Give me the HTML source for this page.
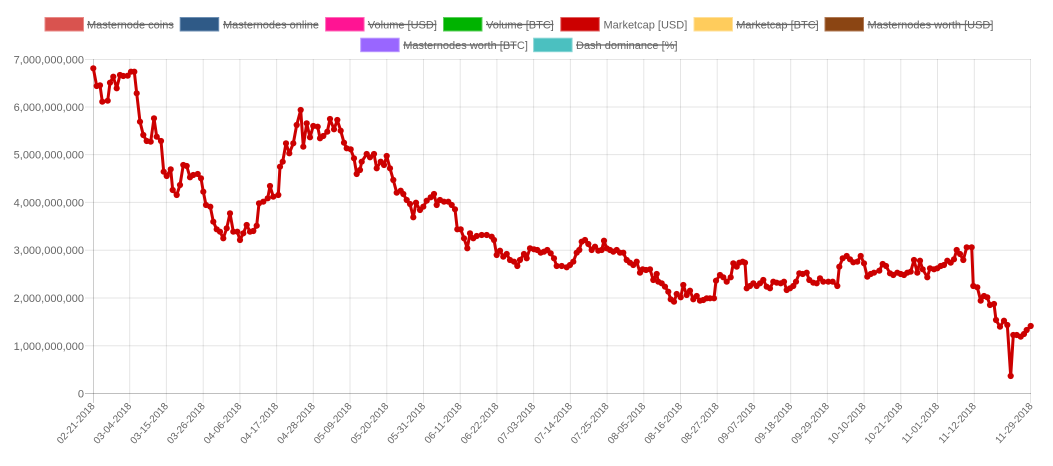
<!DOCTYPE html>
<html>
<head>
<meta charset="utf-8">
<style>
html,body{margin:0;padding:0;background:#fff;}
svg{display:block;}
text{font-family:"Liberation Sans",Arial,sans-serif;fill:#666;}
</style>
</head>
<body>
<svg width="1053" height="466" viewBox="0 0 1053 466" xmlns="http://www.w3.org/2000/svg">
<defs>
<marker id="dot" markerUnits="userSpaceOnUse" markerWidth="8" markerHeight="8" refX="4" refY="4" viewBox="0 0 8 8">
<circle cx="4" cy="4" r="3.1" fill="#cc0000"/>
</marker>
</defs>

<!-- Legend row 1 -->
<g stroke-width="1">
<rect x="45" y="17.5" width="38.5" height="13.5" fill="#d9534f" stroke="#e98a87"/>
<rect x="180.2" y="17.5" width="38.5" height="13.5" fill="#2f5a87" stroke="#6d8fb3"/>
<rect x="325.6" y="17.5" width="38.5" height="13.5" fill="#ff1493" stroke="#ff6ab8"/>
<rect x="443.5" y="17.5" width="38.5" height="13.5" fill="#00b300" stroke="#5ccf5c"/>
<rect x="560.8" y="17.5" width="38.5" height="13.5" fill="#cc0000" stroke="#e06060"/>
<rect x="694" y="17.5" width="38.5" height="13.5" fill="#ffcc5c" stroke="#ffe09a"/>
<rect x="825" y="17.5" width="38.5" height="13.5" fill="#8b4513" stroke="#b07a55"/>
<rect x="360.7" y="38.2" width="38.5" height="13.5" fill="#9966ff" stroke="#bb99ff"/>
<rect x="533.6" y="38.2" width="38.5" height="13.5" fill="#4bc0c0" stroke="#8ad6d6"/>
</g>
<g font-size="11">
<text x="87" y="28.5">Masternode coins</text>
<text x="223" y="28.5">Masternodes online</text>
<text x="367.8" y="28.5">Volume [USD]</text>
<text x="486" y="28.5">Volume [BTC]</text>
<text x="603.5" y="28.5">Marketcap [USD]</text>
<text x="736.2" y="28.5">Marketcap [BTC]</text>
<text x="867.5" y="28.5">Masternodes worth [USD]</text>
<text x="403.2" y="49">Masternodes worth [BTC]</text>
<text x="576" y="49">Dash dominance [%]</text>
</g>
<g stroke="#666" stroke-width="1.3">
<line x1="87" y1="24.5" x2="173.5" y2="24.5"/>
<line x1="223" y1="24.5" x2="318" y2="24.5"/>
<line x1="367.8" y1="24.5" x2="436.5" y2="24.5"/>
<line x1="486" y1="24.5" x2="553.5" y2="24.5"/>
<line x1="736.2" y1="24.5" x2="817.8" y2="24.5"/>
<line x1="867.5" y1="24.5" x2="991.8" y2="24.5"/>
<line x1="403.2" y1="45" x2="516.6" y2="45"/>
<line x1="576" y1="45" x2="676.8" y2="45"/>
</g>

<!-- Horizontal gridlines -->
<g stroke="rgba(0,0,0,0.1)" stroke-width="1">
<line x1="85" y1="59.5" x2="1031" y2="59.5"/>
<line x1="85" y1="107" x2="1031" y2="107"/>
<line x1="85" y1="154.6" x2="1031" y2="154.6"/>
<line x1="85" y1="202.4" x2="1031" y2="202.4"/>
<line x1="85" y1="250.2" x2="1031" y2="250.2"/>
<line x1="85" y1="298" x2="1031" y2="298"/>
<line x1="85" y1="345.8" x2="1031" y2="345.8"/>
</g>
<line x1="85" y1="393.5" x2="1031" y2="393.5" stroke="rgba(0,0,0,0.25)" stroke-width="1"/>

<!-- Vertical gridlines -->
<g stroke="rgba(0,0,0,0.1)" stroke-width="1">
<line x1="129.7" y1="59" x2="129.7" y2="403"/>
<line x1="166.4" y1="59" x2="166.4" y2="403"/>
<line x1="203.2" y1="59" x2="203.2" y2="403"/>
<line x1="239.9" y1="59" x2="239.9" y2="403"/>
<line x1="276.6" y1="59" x2="276.6" y2="403"/>
<line x1="313.3" y1="59" x2="313.3" y2="403"/>
<line x1="350" y1="59" x2="350" y2="403"/>
<line x1="386.8" y1="59" x2="386.8" y2="403"/>
<line x1="423.5" y1="59" x2="423.5" y2="403"/>
<line x1="460.2" y1="59" x2="460.2" y2="403"/>
<line x1="496.9" y1="59" x2="496.9" y2="403"/>
<line x1="533.6" y1="59" x2="533.6" y2="403"/>
<line x1="570.4" y1="59" x2="570.4" y2="403"/>
<line x1="607.1" y1="59" x2="607.1" y2="403"/>
<line x1="643.8" y1="59" x2="643.8" y2="403"/>
<line x1="680.5" y1="59" x2="680.5" y2="403"/>
<line x1="717.2" y1="59" x2="717.2" y2="403"/>
<line x1="753.9" y1="59" x2="753.9" y2="403"/>
<line x1="790.7" y1="59" x2="790.7" y2="403"/>
<line x1="827.4" y1="59" x2="827.4" y2="403"/>
<line x1="864.1" y1="59" x2="864.1" y2="403"/>
<line x1="900.8" y1="59" x2="900.8" y2="403"/>
<line x1="937.5" y1="59" x2="937.5" y2="403"/>
<line x1="974.3" y1="59" x2="974.3" y2="403"/>
<line x1="1030.5" y1="59" x2="1030.5" y2="403"/>
</g>
<line x1="93.5" y1="59" x2="93.5" y2="403" stroke="rgba(0,0,0,0.2)" stroke-width="1"/>

<!-- Y labels -->
<g font-size="11" text-anchor="end">
<text x="84" y="63.5">7,000,000,000</text>
<text x="84" y="111">6,000,000,000</text>
<text x="84" y="158.6">5,000,000,000</text>
<text x="84" y="206.4">4,000,000,000</text>
<text x="84" y="254.2">3,000,000,000</text>
<text x="84" y="302">2,000,000,000</text>
<text x="84" y="349.8">1,000,000,000</text>
<text x="84" y="397.5">0</text>
</g>

<!-- X labels -->
<g font-size="10" text-anchor="end">
<text transform="translate(95.3,406.5) rotate(-48)">02-21-2018</text>
<text transform="translate(132,406.5) rotate(-48)">03-04-2018</text>
<text transform="translate(168.7,406.5) rotate(-48)">03-15-2018</text>
<text transform="translate(205.5,406.5) rotate(-48)">03-26-2018</text>
<text transform="translate(242.2,406.5) rotate(-48)">04-06-2018</text>
<text transform="translate(278.9,406.5) rotate(-48)">04-17-2018</text>
<text transform="translate(315.6,406.5) rotate(-48)">04-28-2018</text>
<text transform="translate(352.3,406.5) rotate(-48)">05-09-2018</text>
<text transform="translate(389.1,406.5) rotate(-48)">05-20-2018</text>
<text transform="translate(425.8,406.5) rotate(-48)">05-31-2018</text>
<text transform="translate(462.5,406.5) rotate(-48)">06-11-2018</text>
<text transform="translate(499.2,406.5) rotate(-48)">06-22-2018</text>
<text transform="translate(535.9,406.5) rotate(-48)">07-03-2018</text>
<text transform="translate(572.7,406.5) rotate(-48)">07-14-2018</text>
<text transform="translate(609.4,406.5) rotate(-48)">07-25-2018</text>
<text transform="translate(646.1,406.5) rotate(-48)">08-05-2018</text>
<text transform="translate(682.8,406.5) rotate(-48)">08-16-2018</text>
<text transform="translate(719.5,406.5) rotate(-48)">08-27-2018</text>
<text transform="translate(756.2,406.5) rotate(-48)">09-07-2018</text>
<text transform="translate(793,406.5) rotate(-48)">09-18-2018</text>
<text transform="translate(829.7,406.5) rotate(-48)">09-29-2018</text>
<text transform="translate(866.4,406.5) rotate(-48)">10-10-2018</text>
<text transform="translate(903.1,406.5) rotate(-48)">10-21-2018</text>
<text transform="translate(939.8,406.5) rotate(-48)">11-01-2018</text>
<text transform="translate(976.6,406.5) rotate(-48)">11-12-2018</text>
<text transform="translate(1033.3,406.5) rotate(-48)">11-29-2018</text>
</g>

<!-- Series -->
<polyline fill="none" stroke="#cc0000" stroke-width="3" stroke-linejoin="round" stroke-linecap="round"
marker-start="url(#dot)" marker-mid="url(#dot)" marker-end="url(#dot)"
points="93.3,68.3 96.7,86 100,85.3 102.3,101.7 107.7,100.7 110,82.7 113.3,76.7 116.7,88.3 120,75 123.3,76 127.7,75.7 131,71.7 134.3,71.7 136.7,93.3 140,121.7 143.3,135 146.7,141 150.7,141.7 154,118.3 156.7,136.7 161,141 163.7,171.7 166.7,176 170.7,169.3 172.7,190 176.7,195 180,185 183.3,165 186.7,166 190,177.3 193.3,175 197.7,174 201,178.3 203.3,191.7 206,205 210.3,206.7 213.3,221.7 216.7,229.3 220,231.7 223.3,238.3 226.7,228.3 230,213.3 233.3,231.7 237.3,231.7 240,240 243.3,233.3 246.7,225 250,231.7 253.3,231 256.7,225.7 259,203.3 263.3,201.7 267.7,198.3 270,186 273.3,196.7 278.3,195 280,166.7 282.7,161.7 286,143.3 289.3,153.3 293.3,143.3 296.7,125 300.7,110 303.3,146.7 306.7,123.3 310,137.3 313.3,126 317.7,126.7 320,138.3 323.3,136 327.3,131.7 330,119 334,129.3 337.3,120 340.7,130.7 344,142.7 346.7,148.3 350.7,149.3 354,158.3 356.7,174 360,170 361.7,161.7 366.7,154 370,157.3 374,154 376.7,168.3 380.7,161.7 384,165 386.7,156 390,168.3 393.3,180 396.7,192.7 400.7,190.7 403.3,194 406.7,200 410,204 413.3,217.3 416,202.7 420,210 423.3,206.7 426.7,200.7 430.7,197.3 434,194 436.7,205 440,200 444,201.7 448.3,201.7 451.7,205 455,209.3 457.3,229.3 460.7,229.3 464,238.3 467.3,248.3 470,233.3 473.3,238.3 476.7,236 481.7,235 486.7,235 491.7,236.7 494,240 496.7,255 500,250.7 503.3,256.7 506.7,254 510,260 514,261.7 517.3,266 520,260 524,254 526.7,258.3 530,248.3 534,249.3 537.3,250 540.7,252.7 544,251.7 547.3,250 550.7,253.3 554,258.3 556.7,266 561.7,266 566.7,267.3 570,265 573.3,261.7 576.7,252.7 579.3,250 581.7,241.7 585,240 588.3,244 591.7,250 595,246.7 598.3,250.7 601.7,250 604,240.7 606.7,248.3 610,250 613.3,251.7 616.7,250 620,252.7 623.3,252.7 626.7,260 630,262.7 633.3,265 636.7,261.7 640,272.7 642.7,269.3 646,270 650,269.3 653.3,280 656.7,274 658.3,281.7 661.7,283.3 665,286.7 668.3,291.7 670.7,299.3 674,301.7 676.7,294 680.7,297.3 683.3,285 686.7,295 690,290.7 693.3,299.3 696.7,296 700,300.7 703.3,300 706.7,298.3 710,298.3 714,298.3 716,280.7 720,275 723.3,277.3 726.7,281.7 730.7,277.3 733.3,263.3 736.7,266.7 739.3,262.7 742.7,261.7 745,262.7 746.7,288.3 750,286 753.3,283.3 756.7,286 760,283.3 763.3,280 766.7,286.7 770,288.3 773.3,281.7 776.7,282.7 780.7,283.3 784,281.7 786.7,290 790,288.3 793.3,286 796,281.7 799.3,273.3 802.7,274 806.7,272.7 809.3,280 813.3,282.7 816.7,283.3 820,278.3 823.3,281.7 828.3,281.7 832.7,281.7 837.3,286 839.3,266.7 842.7,258.3 846.7,256 850,259.3 853.3,262.3 857.3,261.7 860.7,256 864,263.3 867.3,276.7 870.7,274 874,272.7 879.3,270.7 882.7,264 886,266 890,273.3 893.3,275 897.3,272.7 900.7,274 904,275 907.3,272.7 910.7,271.7 914,260 917.3,272.7 920,260.7 922.7,269.3 927.3,277.3 930,268.3 934,269.3 937.3,268.3 940.7,266 944,265 947.3,260.7 950.7,262.7 954,259.3 956.7,250 960,254 963.3,260 966.7,247.3 971.7,247.3 973.3,286 977.3,287.3 980.7,300.7 984,296 987.3,297.3 990,305 994,304 996,320 1000,326.7 1004,320.7 1007.3,325 1010.7,376 1013.3,335 1016.7,335 1020.7,336.7 1024,334 1026.7,330 1030.7,326"/>
</svg>
</body>
</html>
